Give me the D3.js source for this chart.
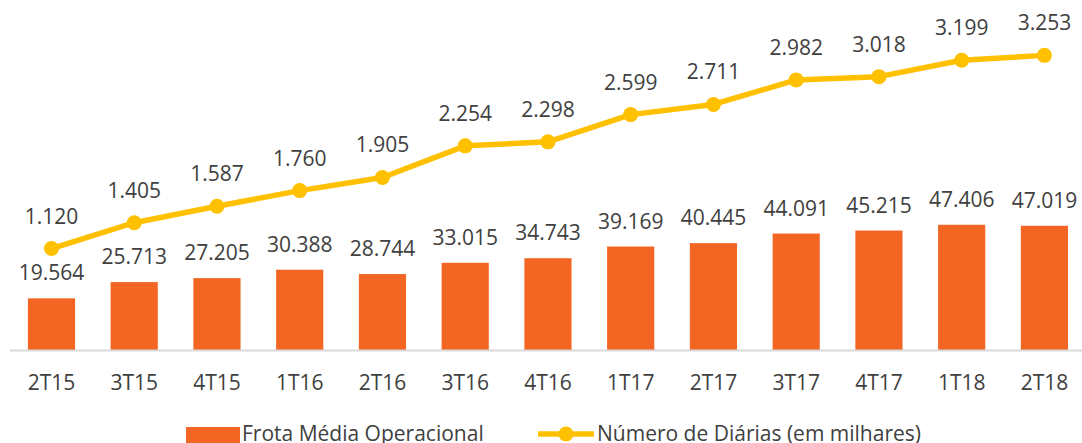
<!DOCTYPE html>
<html>
<head>
<meta charset="utf-8">
<script src="https://cdn.jsdelivr.net/npm/d3@7"></script>
<style>
html,body{margin:0;padding:0;background:#fff;}
svg{display:block;}
text{font-family:"Open Sans",sans-serif;fill:#404040;}
</style>
</head>
<body>
<svg id="chart" width="1082" height="443"></svg>
<script>
const categories = ["2T15","3T15","4T15","1T16","2T16","3T16","4T16","1T17","2T17","3T17","4T17","1T18","2T18"];
const frota = [19564,25713,27205,30388,28744,33015,34743,39169,40445,44091,45215,47406,47019];
const diarias = [1120,1405,1587,1760,1905,2254,2298,2599,2711,2982,3018,3199,3253];
const seriesNames = ["Frota Média Operacional","Número de Diárias (em milhares)"];

const fmt = v => d3.format(",")(v).replace(/,/g, ".");
const fmtK = v => (v/1000).toFixed(3);

const svg = d3.select("#chart");
const baseY = 350, topY = 33;
const barColor = "#F26522", lineColor = "#FFC000";
const fs = 21;

const x = d3.scaleBand().domain(categories).range([10.1, 1085.8]).paddingInner(0.43).paddingOuter(0.215);
const yBar = d3.scaleLinear().domain([0,120000]).range([baseY, topY]);
const yLine = d3.scaleLinear().domain([0,3500]).range([baseY, topY]);

// bars
svg.append("g").selectAll("rect").data(frota).join("rect")
  .attr("x", (d,i) => x(categories[i]))
  .attr("y", d => yBar(d))
  .attr("width", x.bandwidth())
  .attr("height", d => baseY - yBar(d))
  .attr("fill", barColor);

// axis line
svg.append("line").attr("x1",10).attr("x2",1082).attr("y1",baseY+0.5).attr("y2",baseY+0.5)
  .attr("stroke","#d9d9d9").attr("stroke-width",2);

// x labels
svg.append("g").selectAll("text").data(categories).join("text")
  .attr("x", d => x(d) + x.bandwidth()/2)
  .attr("y", 390)
  .attr("text-anchor","middle")
  .attr("font-size", fs)
  .text(d => d);

// bar labels
svg.append("g").selectAll("text").data(frota).join("text")
  .attr("x", (d,i) => x(categories[i]) + x.bandwidth()/2)
  .attr("y", d => yBar(d) - 18)
  .attr("text-anchor","middle")
  .attr("font-size", fs)
  .text(d => fmt(d));

// line
const cx = (i) => x(categories[i]) + x.bandwidth()/2;
const line = d3.line().x((d,i) => cx(i)).y(d => yLine(d));
svg.append("path").datum(diarias).attr("d", line)
  .attr("fill","none").attr("stroke",lineColor).attr("stroke-width",5.5)
  .attr("stroke-linejoin","round").attr("stroke-linecap","round");
svg.append("g").selectAll("circle").data(diarias).join("circle")
  .attr("cx", (d,i) => cx(i)).attr("cy", d => yLine(d)).attr("r", 7.5)
  .attr("fill", lineColor);

// line labels
svg.append("g").selectAll("text").data(diarias).join("text")
  .attr("x", (d,i) => cx(i))
  .attr("y", d => yLine(d) - 25)
  .attr("text-anchor","middle")
  .attr("font-size", fs)
  .text(d => fmtK(d));

// legend
const lg = svg.append("g");
lg.append("rect").attr("x",186).attr("y",427).attr("width",54).attr("height",16).attr("fill",barColor);
lg.append("text").attr("x",242).attr("y",441).attr("font-size",fs).text(seriesNames[0]);
lg.append("line").attr("x1",538).attr("x2",594).attr("y1",434).attr("y2",434)
  .attr("stroke",lineColor).attr("stroke-width",5.5);
lg.append("circle").attr("cx",566).attr("cy",434).attr("r",7.5).attr("fill",lineColor);
lg.append("text").attr("x",597).attr("y",441).attr("font-size",fs).text(seriesNames[1]);
</script>
</body>
</html>
